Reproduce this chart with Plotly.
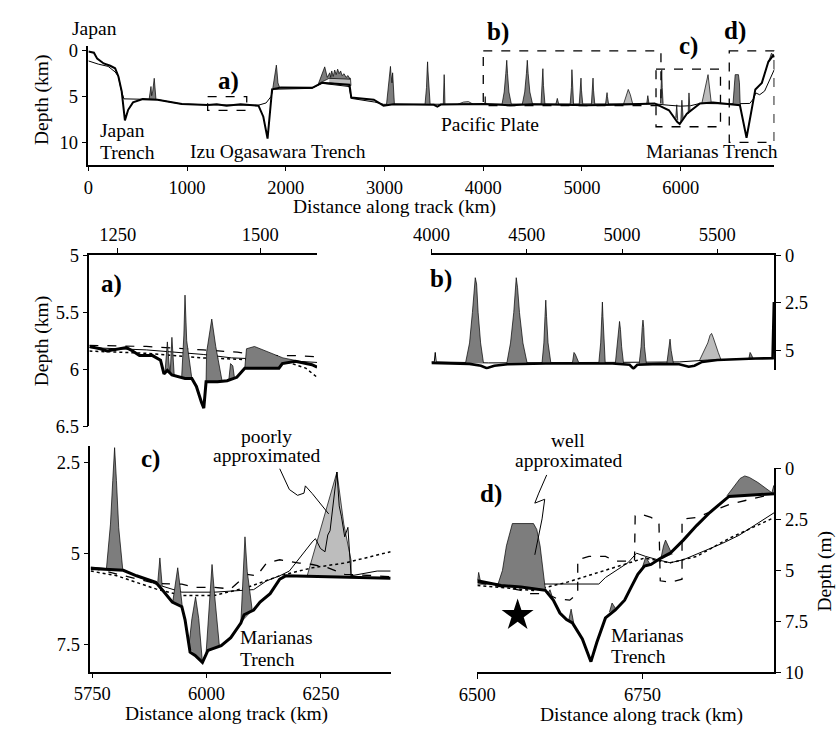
import plotly.graph_objects as go

W, H = 838, 736
FONT = "Liberation Serif, Times New Roman, serif"
DARK = "#7d7d7d"
LIGHT = "#bdbdbd"

# ================= DATA =================
# ---- overview panel (distance km, depth km) ----
top_thick_x = [0, 56, 89, 155, 221, 271, 304, 337, 370, 403, 452, 551, 700, 815, 947, 1211, 1300, 1400, 1541,
               1723, 1772, 1815, 1838, 1861, 1950, 2267, 2366, 2645, 2663, 2891, 2990, 3089, 3500, 3535, 3570,
               4013, 4280, 4500, 5060, 5350, 5736, 5881, 5964, 5990, 6063, 6195, 6327, 6500, 6600, 6667, 6723,
               6756, 6822, 6888, 6937, 6950]
top_thick_d = [0.07, 0.2, 0.85, 1.38, 1.63, 1.91, 2.8, 4.4, 7.6, 6.45, 5.64, 5.28, 5.35, 5.57, 5.82, 5.92, 5.85, 6.0,
               5.85, 6.0, 7.2, 9.6, 6.5, 4.2, 4.0, 4.04, 3.5, 3.7, 5.1, 5.35, 6.0, 5.85, 5.9, 6.1, 5.88, 5.82, 5.95,
               5.85, 5.95, 5.9, 5.75, 6.5, 7.77, 8.0, 6.88, 5.75, 5.65, 5.8, 5.95, 9.5, 6.17, 4.22, 3.5, 1.2, 0.5, 0.7]
top_thin_x = [0, 100, 200, 270, 304, 330, 360, 550, 700, 815, 947, 1211, 1600, 1720, 1800, 1850, 1870, 2267, 2366,
              2640, 2663, 2900, 2990, 3100, 5736, 5881, 6000, 6100, 6195, 6500, 6700, 6740, 6760, 6800, 6850, 6950]
top_thin_d = [1.1, 1.45, 1.7, 2.3, 2.8, 4.2, 5.25, 5.3, 5.33, 5.57, 5.82, 5.9, 5.88, 5.95, 5.7, 5.0, 4.2, 4.1, 3.55,
              3.9, 5.2, 5.6, 5.85, 5.85, 5.8, 5.95, 6.05, 6.0, 5.75, 5.8, 5.75, 5.2, 4.6, 4.8, 4.4, 2.0]
top_dark_x = [[615, 625, 634, 641, 652, 667, 673, 685],
              [1868, 1885, 1895, 1904, 1910, 1920, 1937],
              [2330, 2360, 2394, 2420, 2445, 2455, 2465, 2480, 2495, 2510, 2525, 2540, 2555, 2570, 2590, 2610,
               2630, 2650, 2650, 2440, 2330],
              [3020, 3040, 3055, 3060, 3065, 3075, 3082, 3090, 3100],
              [3410, 3425, 3432, 3436, 3440, 3448, 3462],
              [3595, 3602, 3604, 3607, 3612],
              [4015, 4020, 4025],
              [4190, 4212, 4228, 4238, 4246, 4260, 4285],
              [4395, 4420, 4437, 4446, 4455, 4472, 4500],
              [4585, 4597, 4604, 4610, 4625],
              [4735, 4750, 4765],
              [4880, 4893, 4898, 4903, 4915],
              [4972, 4985, 4990, 4995, 5008],
              [5095, 5107, 5112, 5117, 5130],
              [5238, 5250, 5254, 5258, 5270],
              [5655, 5667, 5680],
              [5795, 5803, 5808, 5813, 5822],
              [5950, 5960, 5970], [6000, 6012, 6025], [6075, 6084, 6095],
              [6530, 6545, 6552, 6585, 6595, 6603],
              [6890, 6920, 6945]]
top_dark_d = [[5.3, 4.6, 3.9, 4.9, 4.4, 3.0, 4.3, 5.35],
              [4.1, 3.0, 2.0, 1.56, 2.2, 3.5, 4.0],
              [3.6, 2.8, 1.75, 2.9, 2.4, 2.9, 2.2, 2.8, 2.1, 2.6, 2.0, 2.5, 2.2, 2.7, 2.5, 2.9, 2.7, 3.1, 3.1,
               3.0, 3.6],
              [5.85, 4.0, 2.0, 1.7, 2.5, 3.5, 2.4, 4.5, 5.85],
              [5.85, 4.0, 2.0, 1.2, 2.2, 4.0, 5.85],
              [5.85, 3.5, 2.6, 3.5, 5.85],
              [5.85, 5.0, 5.85],
              [5.85, 4.5, 2.5, 1.03, 2.5, 4.5, 5.85],
              [5.85, 4.5, 2.5, 1.03, 2.5, 4.5, 5.85],
              [5.85, 3.8, 1.95, 3.8, 5.85],
              [5.85, 5.2, 5.85],
              [5.85, 4.0, 2.06, 4.0, 5.85],
              [5.85, 4.3, 2.98, 4.3, 5.85],
              [5.85, 4.3, 2.98, 4.3, 5.85],
              [5.85, 5.0, 4.57, 5.0, 5.85],
              [5.85, 4.9, 5.85],
              [5.75, 4.0, 2.09, 4.0, 5.8],
              [7.3, 5.9, 7.6], [7.9, 5.4, 7.4], [6.9, 4.6, 6.6],
              [5.8, 3.5, 2.6, 2.6, 3.5, 5.95],
              [1.2, 0.25, 0.55]]
top_light_x = [[2440, 2550, 2655, 2660, 2440],
               [3740, 3800, 3850, 3900],
               [5420, 5450, 5469, 5490, 5515],
               [6215, 6277, 6310]]
top_light_d = [[3.0, 2.9, 3.0, 3.8, 3.5],
               [5.85, 5.6, 5.55, 5.85],
               [5.85, 4.8, 4.22, 4.8, 5.85],
               [5.7, 2.6, 5.7]]
# zoom boxes on the overview: (x0, x1, d0, d1)
box_a = [1208, 1604, 5.0, 6.5]
box_b = [4000, 5800, 0.0, 6.0]
box_c = [5750, 6403, 2.0, 8.3]
box_d = [6492, 6947, 0.0, 10.0]

# ---- panel a ----
a_thick_x = [1200, 1219, 1231, 1254, 1265, 1276, 1288, 1311, 1325, 1331, 1337, 1345, 1368, 1380, 1388, 1397, 1401,
             1405, 1425, 1442, 1459, 1473, 1533, 1539, 1562, 1591, 1600]
a_thick_d = [5.80, 5.82, 5.84, 5.82, 5.81, 5.84, 5.88, 5.88, 5.92, 6.04, 6.01, 6.05, 6.08, 6.08, 6.15, 6.29, 6.34,
             6.11, 6.11, 6.10, 6.07, 5.99, 5.99, 5.95, 5.93, 5.96, 5.98]
a_thin_x = [1200, 1300, 1400, 1450, 1500, 1600]
a_thin_d = [5.81, 5.83, 5.87, 5.90, 5.91, 5.94]
a_dash_x = [1200, 1300, 1400, 1460, 1500, 1560, 1600]
a_dash_d = [5.79, 5.80, 5.83, 5.85, 5.88, 5.88, 5.89]
a_dot_x = [1200, 1300, 1400, 1500, 1550, 1580, 1600]
a_dot_d = [5.84, 5.86, 5.90, 5.92, 5.94, 5.99, 6.07]
a_dark_x = [[1333, 1337, 1341], [1342, 1345, 1349], [1362, 1366, 1368, 1371, 1380],
            [1405, 1406, 1415, 1422, 1433], [1445, 1448, 1452, 1455],
            [1473, 1476, 1490, 1500, 1520, 1540, 1560, 1575, 1562, 1539, 1533]]
a_dark_d = [[6.02, 5.76, 6.02], [6.03, 5.72, 6.05], [6.08, 5.7, 5.35, 5.75, 6.08],
            [6.11, 5.85, 5.56, 5.8, 6.1], [6.09, 5.95, 5.97, 6.08],
            [5.99, 5.82, 5.80, 5.82, 5.86, 5.90, 5.92, 5.94, 5.93, 5.95, 5.99]]

# ---- panel b ----
b_thick_x = [4000, 4100, 4200, 4260, 4290, 4330, 4400, 4600, 4800, 4950, 5040, 5060, 5080, 5200, 5300, 5350, 5380,
             5420, 5500, 5600, 5700, 5790, 5797]
b_thick_d = [5.65, 5.68, 5.7, 5.8, 5.93, 5.8, 5.72, 5.68, 5.7, 5.68, 5.75, 5.95, 5.75, 5.7, 5.72, 5.85, 5.8, 5.6,
             5.5, 5.45, 5.42, 5.4, 2.45]
b_thin_x = [4000, 4015, 4020, 4025, 4300, 4600, 5000, 5300, 5450, 5800]
b_thin_d = [5.6, 5.6, 5.1, 5.6, 5.65, 5.65, 5.62, 5.6, 5.5, 5.4]
b_dark_x = [[4179, 4200, 4215, 4225, 4230, 4237, 4245, 4258, 4273],
            [4395, 4415, 4432, 4440, 4445, 4452, 4462, 4480, 4503],
            [4580, 4590, 4596, 4600, 4604, 4612, 4627],
            [4740, 4748, 4755, 4762, 4775],
            [4878, 4888, 4894, 4897, 4900, 4905, 4912],
            [4965, 4975, 4983, 4987, 4992, 4998, 5008],
            [5090, 5100, 5106, 5110, 5114, 5118, 5128],
            [5235, 5245, 5252, 5258, 5270],
            [5665, 5672, 5678, 5688]]
b_dark_d = [[5.65, 4.6, 3.0, 1.5, 1.17, 1.5, 3.0, 4.6, 5.65],
            [5.7, 4.6, 3.0, 1.6, 1.17, 1.7, 3.0, 4.6, 5.7],
            [5.68, 4.6, 3.2, 2.35, 3.2, 4.6, 5.68],
            [5.65, 5.1, 5.2, 5.4, 5.68],
            [5.68, 4.6, 3.2, 2.45, 3.2, 4.6, 5.68],
            [5.68, 4.8, 3.8, 3.47, 3.9, 4.8, 5.68],
            [5.7, 4.8, 3.8, 3.4, 3.8, 4.8, 5.7],
            [5.7, 5.0, 4.4, 5.0, 5.7],
            [5.45, 5.1, 5.2, 5.42]]
b_light_x = [[5405, 5430, 5450, 5462, 5470, 5478, 5490, 5505, 5520]]
b_light_d = [[5.55, 5.0, 4.6, 4.2, 4.1, 4.3, 4.7, 5.1, 5.5]]

# ---- panel c ----
c_thick_x = [5747, 5818, 5847, 5889, 5904, 5925, 5946, 5953, 5964, 5975, 5991, 6003, 6032, 6053, 6075, 6082, 6103,
             6117, 6139, 6160, 6174, 6302, 6373, 6402]
c_thick_d = [5.42, 5.47, 5.62, 5.80, 6.02, 6.34, 6.47, 6.83, 7.72, 7.81, 8.0, 7.67, 7.54, 7.32, 6.92, 6.69, 6.56,
             6.34, 6.11, 5.71, 5.62, 5.65, 5.67, 5.69]
c_thin_x = [5747, 5818, 5889, 5946, 6017, 6103, 6131, 6160, 6181, 6203, 6217, 6231, 6238, 6249, 6259, 6265, 6270,
            6278, 6285, 6290, 6295, 6302, 6309, 6316, 6373, 6402]
c_thin_d = [5.38, 5.47, 5.85, 6.07, 6.07, 6.0, 5.76, 5.62, 5.49, 5.13, 4.91, 4.69, 4.6, 4.87, 4.96, 4.5, 4.38,
            3.6, 2.77, 3.7, 4.0, 4.55, 4.29, 5.62, 5.49, 5.49]
c_dash_x = [5747, 5889, 5946, 5975, 6017, 6053, 6089, 6110, 6131, 6160, 6203, 6231, 6266, 6302, 6373, 6402]
c_dash_d = [5.40, 5.83, 5.85, 5.94, 5.94, 5.98, 5.58, 5.62, 5.27, 5.18, 5.27, 5.31, 5.40, 5.58, 5.62, 5.65]
c_dot_x = [5747, 5804, 5889, 5946, 6017, 6089, 6160, 6231, 6302, 6402]
c_dot_d = [5.49, 5.62, 5.98, 6.16, 6.16, 5.94, 5.62, 5.40, 5.27, 4.96]
c_dark_x = [[5781, 5790, 5795, 5799, 5803, 5808, 5817],
            [5893, 5898, 5903],
            [5926, 5933, 5937, 5942, 5947],
            [5961, 5968, 5976, 5983, 5991],
            [5999, 6005, 6012, 6018, 6028],
            [6075, 6080, 6084, 6089, 6100]]
c_dark_d = [[5.45, 4.2, 3.0, 2.1, 3.0, 4.3, 5.47],
            [5.85, 5.13, 5.9],
            [6.35, 5.8, 5.4, 5.9, 6.47],
            [7.6, 6.8, 6.2, 6.8, 8.0],
            [7.75, 6.5, 5.31, 6.2, 7.54],
            [6.92, 5.8, 4.55, 5.5, 6.58]]
c_light_x = [[6220, 6285, 6300, 6316, 6316]]
c_light_d = [[5.62, 2.77, 4.2, 5.2, 5.64]]
c_callout_x = [6160, 6181, 6199, 6213, 6216, 6231, 6267]
c_callout_d = [2.68, 3.25, 3.41, 3.35, 3.15, 3.36, 3.92]

# ---- panel d ----
d_thick_x = [6500, 6536, 6566, 6603, 6615, 6625, 6635, 6644, 6659, 6672, 6681, 6694, 6709, 6723, 6733, 6743, 6753,
             6763, 6778, 6792, 6812, 6832, 6852, 6866, 6881, 6950]
d_thick_d = [5.51, 5.74, 5.82, 5.98, 6.46, 7.09, 7.41, 7.57, 8.36, 9.47, 8.52, 7.33, 6.94, 6.46, 5.82, 5.19, 4.79,
             4.71, 4.40, 4.16, 3.52, 2.81, 2.17, 1.78, 1.38, 1.25]
d_thin_x = [6500, 6585, 6684, 6694, 6713, 6728, 6741, 6755, 6773, 6792, 6812, 6842, 6871, 6896, 6916, 6935, 6950]
d_thin_d = [5.67, 5.67, 5.67, 5.35, 4.95, 4.63, 4.16, 4.32, 4.48, 4.63, 4.48, 4.08, 3.68, 3.29, 2.89, 2.49, 2.17]
d_dot_x = [6500, 6585, 6635, 6684, 6723, 6753, 6792, 6832, 6881, 6930, 6950]
d_dot_d = [5.74, 5.98, 5.59, 5.11, 4.71, 4.40, 4.63, 4.32, 3.44, 2.73, 2.41]
d_dash_x = [6500, 6536, 6566, 6580, 6605, 6620, 6640, 6652, 6652, 6669, 6694, 6709, 6738, 6739, 6748, 6763, 6775,
            6777, 6792, 6810, 6810, 6832, 6861, 6881, 6911, 6950]
d_dash_d = [5.59, 5.82, 5.98, 6.14, 6.14, 6.38, 6.46, 6.14, 4.48, 4.32, 4.32, 4.55, 4.55, 2.33, 2.25, 2.41, 2.65,
            5.51, 5.59, 5.43, 2.49, 2.41, 2.02, 1.78, 1.54, 1.25]
d_dark_x = [[6500, 6502, 6505],
            [6531, 6538, 6544, 6550, 6553, 6585, 6590, 6595, 6600, 6603, 6566, 6536],
            [6607, 6610, 6614],
            [6638, 6642, 6646],
            [6700, 6704, 6710],
            [6750, 6755, 6762],
            [6778, 6782, 6785, 6790, 6795],
            [6878, 6888, 6898, 6905, 6912, 6925, 6940, 6946, 6949, 6950, 6950]]
d_dark_d = [[5.5, 5.1, 5.6],
            [5.70, 5.0, 3.8, 3.1, 2.71, 2.71, 3.0, 3.8, 5.3, 5.95, 5.82, 5.74],
            [6.1, 5.95, 6.35],
            [7.5, 6.9, 7.6],
            [7.05, 6.6, 6.9],
            [4.85, 4.35, 4.72],
            [4.42, 3.8, 3.52, 3.9, 4.22],
            [1.35, 0.9, 0.5, 0.38, 0.45, 0.7, 1.05, 1.2, 0.85, 1.0, 1.28]]
d_star = [6561, 7.2]
d_callout_x = [6605, 6593, 6587, 6602, 6598, 6587]
d_callout_d = [0.33, 1.22, 1.71, 1.52, 2.48, 4.24]

# ================= FIGURE =================
fig = go.Figure()


def poly(xs, ys, color, n):
    fig.add_trace(go.Scatter(x=xs, y=ys, mode="lines", fill="toself", fillcolor=color,
                             line=dict(color="black", width=0.7), hoverinfo="skip", showlegend=False,
                             xaxis="x" + n, yaxis="y" + n))


def line(xs, ys, width, n, dash="solid"):
    fig.add_trace(go.Scatter(x=xs, y=ys, mode="lines", line=dict(color="black", width=width, dash=dash),
                             hoverinfo="skip", showlegend=False, xaxis="x" + n, yaxis="y" + n))


# overview -> axes "" (x / y)
for xs, ys in zip(top_light_x, top_light_d):
    poly(xs, ys, LIGHT, "")
line(top_thin_x, top_thin_d, 1.0, "")
for xs, ys in zip(top_dark_x, top_dark_d):
    poly(xs, ys, DARK, "")
line(top_thick_x, top_thick_d, 2.0, "")

# panel a -> 2
line(a_dot_x, a_dot_d, 1.5, "2", "dot")
line(a_dash_x, a_dash_d, 1.2, "2", "dash")
line(a_thin_x, a_thin_d, 1.0, "2")
for xs, ys in zip(a_dark_x, a_dark_d):
    poly(xs, ys, DARK, "2")
line(a_thick_x, a_thick_d, 3.0, "2")

# panel b -> 3
for xs, ys in zip(b_light_x, b_light_d):
    poly(xs, ys, LIGHT, "3")
line(b_thin_x, b_thin_d, 1.0, "3")
for xs, ys in zip(b_dark_x, b_dark_d):
    poly(xs, ys, DARK, "3")
line(b_thick_x, b_thick_d, 2.6, "3")

# panel c -> 4
for xs, ys in zip(c_light_x, c_light_d):
    poly(xs, ys, LIGHT, "4")
line(c_dot_x, c_dot_d, 1.5, "4", "dot")
line(c_dash_x, c_dash_d, 1.3, "4", "dash")
line(c_thin_x, c_thin_d, 1.0, "4")
for xs, ys in zip(c_dark_x, c_dark_d):
    poly(xs, ys, DARK, "4")
line(c_thick_x, c_thick_d, 3.0, "4")

# panel d -> 5
line(d_dot_x, d_dot_d, 1.5, "5", "dot")
line(d_dash_x, d_dash_d, 1.3, "5", "dash")
line(d_thin_x, d_thin_d, 1.0, "5")
for xs, ys in zip(d_dark_x, d_dark_d):
    poly(xs, ys, DARK, "5")
line(d_thick_x, d_thick_d, 3.0, "5")
fig.add_trace(go.Scatter(x=[d_star[0]], y=[d_star[1]], mode="markers",
                         marker=dict(symbol="star", size=24, color="black"),
                         hoverinfo="skip", showlegend=False, xaxis="x5", yaxis="y5"))


def px(v):
    return v / W


def py(v):
    return 1 - v / H


TS = 18.5    # tick label size
LS = 19.5    # label size
BS = 25      # panel letter size

AX = dict(showline=True, linecolor="black", linewidth=1.5, ticks="outside", ticklen=5, tickwidth=1.3,
          tickcolor="black", showgrid=False, zeroline=False, tickfont=dict(family=FONT, size=TS, color="black"))

fig.update_layout(
    width=W, height=H, margin=dict(l=0, r=0, t=0, b=0),
    paper_bgcolor="white", plot_bgcolor="white", showlegend=False,
    font=dict(family=FONT, size=LS, color="black"),
    xaxis=dict(AX, domain=[px(71), px(773)], range=[0, 6950], anchor="y",
               tickvals=[0, 1000, 2000, 3000, 4000, 5000, 6000]),
    yaxis=dict(AX, domain=[py(159), py(37.3)], range=[12.45, -0.5], anchor="x", tickvals=[0, 5, 10]),
    xaxis2=dict(AX, domain=[px(72), px(305)], range=[1200, 1600], anchor="y2", side="top",
                tickvals=[1250, 1500]),
    yaxis2=dict(AX, domain=[py(428), py(252)], range=[6.5, 5], anchor="x2", tickvals=[5, 5.5, 6, 6.5],
                ticktext=["5", "5.5", "6", "6.5"]),
    xaxis3=dict(AX, domain=[px(422), px(773)], range=[4000, 5800], anchor="y3", side="top",
                tickvals=[4000, 4500, 5000, 5500]),
    yaxis3=dict(AX, domain=[py(369.6), py(252.3)], range=[6, 0], anchor="x3", side="right",
                tickvals=[0, 2.5, 5]),
    xaxis4=dict(AX, domain=[px(73), px(381)], range=[5746, 6404], anchor="y4", tickvals=[5750, 6000, 6250]),
    yaxis4=dict(AX, domain=[py(680), py(448)], range=[8.25, 2.05], anchor="x4", tickvals=[2.5, 5, 7.5]),
    xaxis5=dict(AX, domain=[px(469), px(773)], range=[6500, 6950], anchor="y5", tickvals=[6500, 6750]),
    yaxis5=dict(AX, domain=[py(681), py(471)], range=[10, 0], anchor="x5", side="right",
                tickvals=[0, 2.5, 5, 7.5, 10]),
)

shapes = []
for b in (box_a, box_b, box_c, box_d):
    shapes.append(dict(type="rect", xref="x", yref="y", x0=b[0], x1=b[1], y0=b[2], y1=b[3],
                       line=dict(color="black", width=1.3, dash="dash"), fillcolor="rgba(0,0,0,0)"))


def path_of(xs, ys):
    return "M " + " L ".join(f"{x},{y}" for x, y in zip(xs, ys))


shapes.append(dict(type="path", xref="x4", yref="y4", path=path_of(c_callout_x, c_callout_d),
                   line=dict(color="black", width=1.0)))
shapes.append(dict(type="path", xref="x5", yref="y5", path=path_of(d_callout_x, d_callout_d),
                   line=dict(color="black", width=1.0)))
fig.update_layout(shapes=shapes)


def ann(text, x, y, xanchor="center", size=LS, bold=False, angle=0):
    if bold:
        text = "<b>" + text + "</b>"
    return dict(text=text, x=px(x), y=py(y), xref="paper", yref="paper", showarrow=False,
                xanchor=xanchor, yanchor="middle", textangle=angle, borderpad=0,
                font=dict(family=FONT, size=size, color="black"))


anns = [
    ann("Japan", 53, 19, "left"),
    ann("Japan", 82, 124, "left"),
    ann("Trench", 82, 146, "left"),
    ann("Izu Ogasawara Trench", 265, 145),
    ann("Pacific Plate", 482, 118),
    ann("Marianas Trench", 709, 145),
    ann("a)", 214, 73, size=BS, bold=True),
    ann("b)", 490, 23, size=BS, bold=True),
    ann("c)", 685, 37, size=BS, bold=True),
    ann("d)", 733, 22, size=BS, bold=True),
    ann("Distance along track (km)", 384, 202),
    ann("Depth (km)", 23, 92, angle=-90),
    ann("Depth (km)", 23, 340, angle=-90),
    ann("a)", 95, 282, size=BS, bold=True),
    ann("b)", 432, 277, size=BS, bold=True),
    ann("c)", 135, 462, size=BS, bold=True),
    ann("d)", 483, 498, size=BS, bold=True),
    ann("poorly", 253, 438),
    ann("approximated", 253, 458),
    ann("well", 562, 443),
    ann("approximated", 562, 463),
    ann("Marianas", 225, 645, "left"),
    ann("Trench", 225, 668, "left"),
    ann("Marianas", 605, 643, "left"),
    ann("Trench", 605, 665, "left"),
    ann("Distance along track (km)", 212, 724),
    ann("Distance along track (km)", 637, 725),
    ann("Depth (m)", 825, 577, angle=-90),
]
fig.update_layout(annotations=anns)

fig.write_html("out.html", config={"displayModeBar": False},
               post_script="document.body.style.margin='0px';document.body.style.overflow='hidden';")
